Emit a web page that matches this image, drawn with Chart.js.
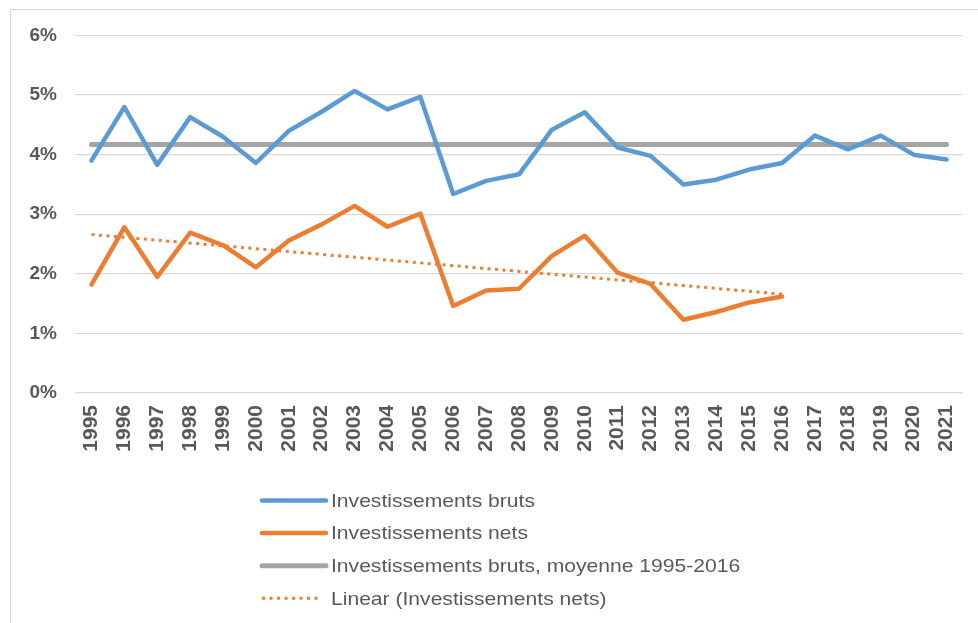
<!DOCTYPE html>
<html>
<head>
<meta charset="utf-8">
<script src="https://cdn.jsdelivr.net/npm/chart.js@4.4.1/dist/chart.umd.min.js"></script>
<style>
  html, body { margin: 0; padding: 0; background: #fff; }
  #wrap { position: relative; width: 978px; height: 623px; }
</style>
</head>
<body>
<div id="wrap"><canvas id="myChart"></canvas></div>
<script>
// categories
var years = ['1995','1996','1997','1998','1999','2000','2001','2002','2003','2004','2005','2006','2007',
  '2008','2009','2010','2011','2012','2013','2014','2015','2016','2017','2018','2019','2020','2021'];

// gross investment, % 
var investBruts = [3.90, 4.80, 3.83, 4.63, 4.30, 3.86, 4.40, 4.72, 5.07, 4.76, 4.97, 3.34, 3.56,
  3.67, 4.42, 4.71, 4.12, 3.98, 3.50, 3.58, 3.75, 3.86, 4.32, 4.09, 4.32, 4.00, 3.92];

// net investment, % (stops in 2016)
var investNets = [1.82, 2.78, 1.95, 2.69, 2.48, 2.11, 2.56, 2.83, 3.14, 2.79, 3.01, 1.46, 1.72,
  1.75, 2.30, 2.64, 2.02, 1.83, 1.23, 1.36, 1.52, 1.62];

// average of gross investment 1995-2016
var moyenneBruts = [4.17, 4.17, 4.17, 4.17, 4.17, 4.17, 4.17, 4.17, 4.17, 4.17, 4.17, 4.17, 4.17, 4.17,
  4.17, 4.17, 4.17, 4.17, 4.17, 4.17, 4.17, 4.17, 4.17, 4.17, 4.17, 4.17, 4.17];

// linear trend of net investment, only the two ends
var trendNets = [2.66, null, null, null, null, null, null, null, null, null, null, null, null, null,
  null, null, null, null, null, null, null, 1.66];

var yTicks = [0, 1, 2, 3, 4, 5, 6];

var textColor = '#595959';
var fontFam = '"Liberation Sans", Arial, sans-serif';

// frame around the whole chart
var framePlugin = {
  id: 'frame',
  beforeDraw: function(chart) {
    var c = chart.ctx;
    c.save();
    c.strokeStyle = '#d9d9d9';
    c.lineWidth = 1;
    c.strokeRect(10.5, 9.5, chart.width, chart.height);
    c.restore();
  }
};

// legend stacked vertically under the axis, like the original
var vertLegend = {
  id: 'vertLegend',
  afterDraw: function(chart) {
    var c = chart.ctx;
    var x0 = 262, x1 = 326, tx = 331, y = 500.5, step = 32.6;
    c.save();
    chart.data.datasets.forEach(function(ds, i) {
      var yy = y + i * step;
      c.beginPath();
      c.strokeStyle = ds.borderColor;
      c.lineWidth = ds.borderWidth;
      c.lineCap = ds.borderDash ? 'butt' : 'round';
      c.setLineDash(ds.borderDash || []);
      c.moveTo(x0, yy);
      c.lineTo(ds.borderDash ? x1 - 6 : x1, yy);
      c.stroke();
      c.setLineDash([]);
      // text is a bit wider in the original
      c.save();
      c.translate(tx, yy + 1);
      c.scale(1.11, 1);
      c.fillStyle = textColor;
      c.font = '19px ' + fontFam;
      c.textBaseline = 'middle';
      c.fillText(ds.label, 0, 0);
      c.restore();
    });
    c.restore();
  }
};

var ctx = document.getElementById('myChart').getContext('2d');
var myChart = new Chart(ctx, {
  type: 'line',
  data: {
    labels: years,
    datasets: [
      {
        label: 'Investissements bruts',
        data: investBruts,
        borderColor: '#5B9BD5',
        borderWidth: 4.5,
        order: 2
      },
      {
        label: 'Investissements nets',
        data: investNets,
        borderColor: '#ED7D31',
        borderWidth: 4.5,
        order: 1
      },
      {
        label: 'Investissements bruts, moyenne 1995-2016',
        data: moyenneBruts,
        borderColor: '#A5A5A5',
        borderWidth: 5,
        order: 3
      },
      {
        label: 'Linear (Investissements nets)',
        data: trendNets,
        borderColor: '#ED7D31',
        borderWidth: 3,
        borderDash: [3, 4.5],
        borderCapStyle: 'butt',
        spanGaps: true,
        order: 0
      }
    ]
  },
  options: {
    responsive: true,
    maintainAspectRatio: false,
    animation: false,
    layout: { padding: { top: 35.5, right: 15, left: 0, bottom: 0 } },
    elements: {
      point: { radius: 0, hoverRadius: 0 },
      line: { tension: 0, borderJoinStyle: 'round', borderCapStyle: 'round', fill: false }
    },
    plugins: {
      legend: { display: false },
      tooltip: { enabled: false }
    },
    scales: {
      x: {
        offset: true,
        grid: { display: false, drawTicks: false },
        border: { display: false },
        ticks: {
          color: textColor,
          font: { family: fontFam, size: 21, weight: 'bold' },
          minRotation: 90,
          maxRotation: 90,
          autoSkip: false,
          padding: 12
        },
        afterFit: function(scale) {
          scale.height = 230;
          scale.paddingLeft = 0;
          scale.paddingRight = 0;
        }
      },
      y: {
        min: 0,
        max: 6,
        afterBuildTicks: function(scale) {
          scale.ticks = yTicks.map(function(v) { return { value: v }; });
        },
        grid: { color: '#d9d9d9', lineWidth: 1.3, drawTicks: false },
        border: { display: false },
        ticks: {
          color: textColor,
          font: { family: fontFam, size: 19, weight: 'bold' },
          padding: 18,
          callback: function(v) { return v + '%'; }
        },
        afterFit: function(scale) { scale.width = 75; }
      }
    }
  },
  plugins: [framePlugin, vertLegend]
});
</script>
</body>
</html>
